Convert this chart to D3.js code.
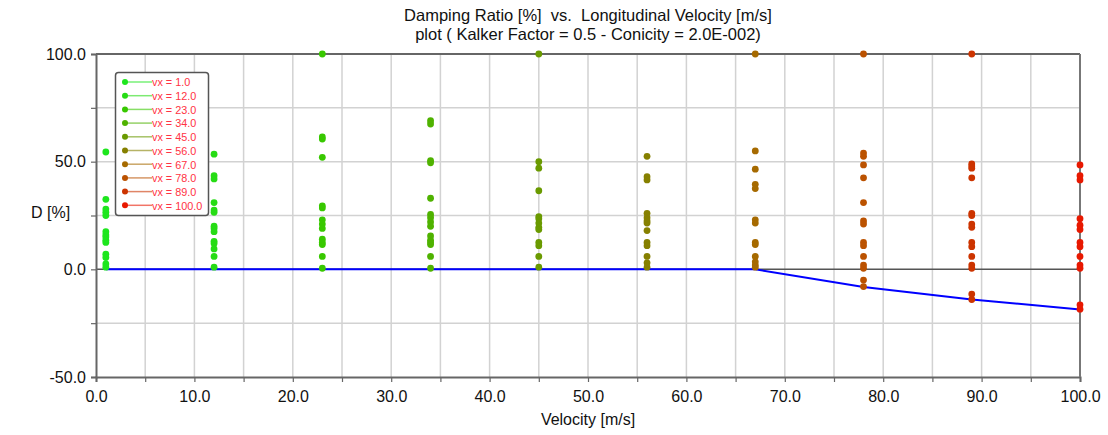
<!DOCTYPE html>
<html>
<head>
<meta charset="utf-8">
<script src="https://cdn.jsdelivr.net/npm/d3@7"></script>
<style>
  html, body { margin: 0; padding: 0; background: #fff; }
  svg { display: block; font-family: Arial, "Liberation Sans", sans-serif; }
</style>
</head>
<body>
<svg id="chart" width="1108" height="435"></svg>
<script>
// Longitudinal velocities of the computed cases [m/s]
const velocities = [1, 12, 23, 34, 45, 56, 67, 78, 89, 100];
const seriesNames = ["vx = 1.0", "vx = 12.0", "vx = 23.0", "vx = 34.0", "vx = 45.0",
                     "vx = 56.0", "vx = 67.0", "vx = 78.0", "vx = 89.0", "vx = 100.0"];
const seriesColors = ["#1ee61e", "#26dc14", "#38c800", "#4fb200", "#6a9a00",
                      "#868000", "#a66a00", "#bb5200", "#cc3400", "#e81800"];

// Damping ratios [%] of all modes at each velocity
const damping1   = [54.5, 32.5, 28, 26.5, 25, 17.5, 16, 15, 13.5, 12.5, 7, 5.5, 2.5, 1];
const damping12  = [53.5, 43.5, 42, 31, 27.5, 26.5, 20, 19, 17.5, 13, 12, 9.5, 6, 1];
const damping23  = [100, 61.5, 60.5, 52, 29.5, 28.5, 23, 21, 19, 14, 12.5, 11.5, 6, 0.5];
const damping34  = [69, 67.5, 50.5, 49.5, 33, 25.5, 24, 22, 20, 15.5, 13.5, 12.5, 11.5, 6, 0.5];
const damping45  = [100, 50, 47, 36.5, 24.5, 23.5, 21.5, 19.5, 18.5, 12.5, 11, 6, 1];
const damping56  = [52.5, 43, 41.5, 26, 24, 22.5, 21.5, 18, 12.5, 11, 6, 3, 1];
const damping67  = [100, 55, 46.5, 39.5, 37.5, 23, 21.5, 12.5, 11.5, 6, 3.5, 2, 1];
const damping78  = [100, 54, 52.5, 48.5, 42.5, 31, 22.5, 21, 12.5, 11, 6, 2, 0.5, -5, -8];
const damping89  = [100, 49, 48, 47, 42.5, 26, 25, 21, 19.5, 12.5, 10.5, 6, 2, 0.5, -11.5, -14];
const damping100 = [48.5, 43.5, 41.5, 23.5, 20.5, 18.5, 12.5, 10.5, 6, 2, 0.5, -16.5, -18.5];
const dampingSets = [damping1, damping12, damping23, damping34, damping45,
                     damping56, damping67, damping78, damping89, damping100];

// Least damped mode at each velocity (stability boundary curve)
const minDamping = [0, 0, 0, 0, 0, 0, 0, -8.2, -14, -18.6];

const xTicks = [0, 10, 20, 30, 40, 50, 60, 70, 80, 90, 100];
const yTicks = [-50, 0, 50, 100];

const svg = d3.select("#chart");
const plotLeft = 96, plotRight = 1080, plotTop = 54, plotBottom = 377;

const x = d3.scaleLinear().domain([0, 100]).range([plotLeft, plotRight]);
const y = d3.scaleLinear().domain([-50, 100]).range([plotBottom, plotTop]);

// one decimal, plain ASCII hyphen for negatives
const fmt = d => d.toFixed(1);

// grid
const grid = svg.append("g").attr("stroke", "#d2d2d2").attr("stroke-width", 1.5);
d3.range(5, 100, 5).forEach(v => {
  grid.append("line").attr("x1", x(v)).attr("x2", x(v)).attr("y1", plotTop).attr("y2", plotBottom);
});
[-25, 25, 50, 75].forEach(v => {
  grid.append("line").attr("x1", plotLeft).attr("x2", plotRight).attr("y1", y(v)).attr("y2", y(v));
});

// zero line
svg.append("line").attr("x1", plotLeft).attr("x2", plotRight).attr("y1", y(0)).attr("y2", y(0))
  .attr("stroke", "#555").attr("stroke-width", 1.5);

// axes
const xAxis = d3.axisBottom(x).tickValues(d3.range(0, 101, 5)).tickSize(5)
  .tickFormat(d => xTicks.includes(d) ? fmt(d) : "");
const gx = svg.append("g").attr("transform", `translate(0,${plotBottom})`).call(xAxis);
gx.select(".domain").attr("stroke", "#666").attr("stroke-width", 2);
gx.selectAll(".tick line").attr("stroke", "#666").attr("stroke-width", 1.2);
gx.selectAll(".tick text").attr("font-size", 16).attr("fill", "#111").attr("dy", "1.05em")
  .attr("font-family", "Arial, 'Liberation Sans', sans-serif");

const yAxis = d3.axisLeft(y).tickValues(d3.range(-50, 101, 25)).tickSize(5).tickPadding(5)
  .tickFormat(d => yTicks.includes(d) ? fmt(d) : "");
const gy = svg.append("g").attr("transform", `translate(${plotLeft},0)`).call(yAxis);
gy.select(".domain").attr("stroke", "#666").attr("stroke-width", 2);
gy.selectAll(".tick line").attr("stroke", "#666").attr("stroke-width", 1.2);
gy.selectAll(".tick text").attr("font-size", 16).attr("fill", "#111")
  .attr("font-family", "Arial, 'Liberation Sans', sans-serif");

// top and right frame
svg.append("line").attr("x1", plotLeft).attr("x2", plotRight).attr("y1", plotTop).attr("y2", plotTop)
  .attr("stroke", "#666").attr("stroke-width", 2);
svg.append("line").attr("x1", plotRight).attr("x2", plotRight).attr("y1", plotTop).attr("y2", plotBottom)
  .attr("stroke", "#777").attr("stroke-width", 2);

// stability curve
const line = d3.line().x((d, i) => x(velocities[i])).y(d => y(d));
svg.append("path").datum(minDamping).attr("d", line)
  .attr("fill", "none").attr("stroke", "#0000ff").attr("stroke-width", 2);

// damping ratio points
dampingSets.forEach((set, i) => {
  svg.append("g").selectAll("circle").data(set).join("circle")
    .attr("cx", x(velocities[i])).attr("cy", d => y(d)).attr("r", 3.4)
    .attr("fill", seriesColors[i]);
});

// titles
svg.append("text").attr("x", 588).attr("y", 21).attr("text-anchor", "middle")
  .attr("font-size", 16.5).attr("fill", "#111").attr("xml:space", "preserve")
  .text("Damping Ratio [%]  vs.  Longitudinal Velocity [m/s]");
svg.append("text").attr("x", 588).attr("y", 40).attr("text-anchor", "middle")
  .attr("font-size", 16.5).attr("fill", "#111").attr("xml:space", "preserve")
  .text("plot ( Kalker Factor = 0.5 - Conicity = 2.0E-002)");
svg.append("text").attr("x", 31).attr("y", 218).attr("font-size", 16).attr("fill", "#111")
  .text("D [%]");
svg.append("text").attr("x", 588).attr("y", 425).attr("text-anchor", "middle")
  .attr("font-size", 16).attr("fill", "#111").text("Velocity [m/s]");

// legend
const lg = svg.append("g");
lg.append("rect").attr("x", 115.5).attr("y", 72.5).attr("width", 93).attr("height", 143)
  .attr("rx", 3).attr("fill", "#fff").attr("stroke", "#555").attr("stroke-width", 1.5);
seriesNames.forEach((name, i) => {
  const yy = 82 + i * 13.7;
  lg.append("line").attr("x1", 125).attr("x2", 152).attr("y1", yy).attr("y2", yy)
    .attr("stroke", seriesColors[i]).attr("stroke-opacity", 0.6).attr("stroke-width", 1.5);
  lg.append("circle").attr("cx", 125).attr("cy", yy).attr("r", 3).attr("fill", seriesColors[i]);
  const t = lg.append("text").attr("x", 152).attr("y", yy + 4.3).attr("font-size", 11.8)
    .attr("fill", "#ff3344").text(name);
  const w = t.node().getComputedTextLength();
  t.attr("textLength", w * 0.92).attr("lengthAdjust", "spacingAndGlyphs");
});
</script>
</body>
</html>
